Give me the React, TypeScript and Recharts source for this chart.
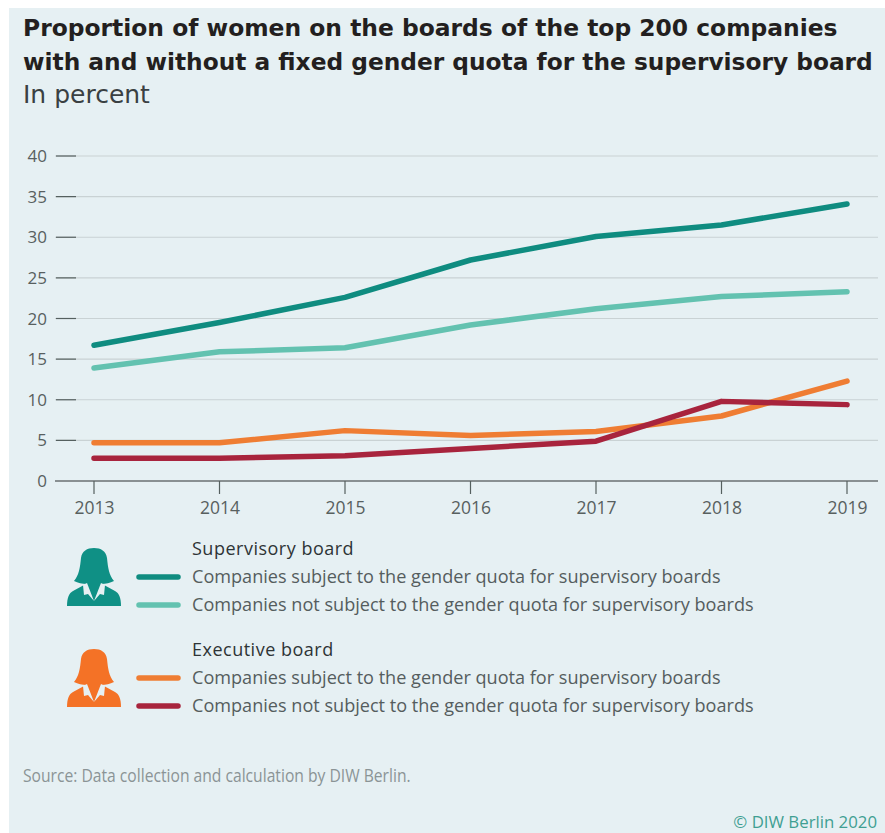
import { CartesianGrid, Line, LineChart, XAxis, YAxis } from "recharts";

const years = ["2013", "2014", "2015", "2016", "2017", "2018", "2019"];
const supervisoryQuota = [16.7, 19.5, 22.6, 27.2, 30.1, 31.5, 34.1];
const supervisoryNoQuota = [13.9, 15.9, 16.4, 19.2, 21.2, 22.7, 23.3];
const executiveQuota = [4.7, 4.7, 6.2, 5.6, 6.1, 8.0, 12.3];
const executiveNoQuota = [2.8, 2.8, 3.1, 4.0, 4.9, 9.8, 9.4];
const yTicks = [0, 5, 10, 15, 20, 25, 30, 35, 40];

const quotaLabel = "Companies subject to the gender quota for supervisory boards";
const noQuotaLabel = "Companies not subject to the gender quota for supervisory boards";

const TEAL = "#0f8c80";
const MINT = "#63c2b0";
const ORANGE = "#ef7d33";
const RED = "#a8243d";
const PANEL = "#e6f0f3";
const SANS = "'Open Sans', sans-serif";

const data = years.map((year, i) => ({
  year,
  supervisoryQuota: supervisoryQuota[i],
  supervisoryNoQuota: supervisoryNoQuota[i],
  executiveQuota: executiveQuota[i],
  executiveNoQuota: executiveNoQuota[i],
}));

const series = [
  { key: "supervisoryQuota", color: TEAL },
  { key: "supervisoryNoQuota", color: MINT },
  { key: "executiveQuota", color: ORANGE },
  { key: "executiveNoQuota", color: RED },
];

function YTick({ y, payload }: any) {
  return (
    <g>
      {payload.value > 0 && (
        <line x1={56} x2={76} y1={y} y2={y} stroke="#55605f" strokeWidth={1.2} />
      )}
      <text x={47} y={y + 6} textAnchor="end" fontFamily={SANS} fontSize={17} fill="#58605f">
        {payload.value}
      </text>
    </g>
  );
}

function XTick({ x, y, payload }: any) {
  return (
    <text x={x + 0.5} y={y + 18} textAnchor="middle" fontFamily={SANS} fontSize={17.5} fill="#58605f">
      {payload.value}
    </text>
  );
}

function WomanIcon({ x, y, color }: { x: number; y: number; color: string }) {
  return (
    <g transform={`translate(${x} ${y})`}>
      {/* shoulders */}
      <path
        d="M0 58 C0 50 2 45 6 43 L17 37 L37 37 L48 43 C52 45 54 50 54 58 Z"
        fill={color}
      />
      {/* head and hair */}
      <path
        d="M27 0 C20 0 15 3 14 10 C13 20 12 27 7 33 C11 35 15 36 20 36 L20 41 L34 41 L34 36 C39 36 43 35 47 33 C42 27 41 20 40 10 C39 3 34 0 27 0 Z"
        fill={color}
      />
      {/* lapels */}
      <path d="M16 37 L20 35 L27 53 L21 46 L17 47 Z" fill={PANEL} />
      <path d="M38 37 L34 35 L27 53 L33 46 L37 47 Z" fill={PANEL} />
    </g>
  );
}

function LegendGroup({
  y,
  title,
  first,
  second,
  icon,
}: {
  y: number;
  title: string;
  first: string;
  second: string;
  icon: string;
}) {
  const rows = [
    { color: first, label: quotaLabel, dy: 28 },
    { color: second, label: noQuotaLabel, dy: 56 },
  ];
  return (
    <g>
      <WomanIcon x={67} y={y} color={icon} />
      <text x={192} y={y + 7} fontFamily={SANS} fontSize={18} letterSpacing={0.5} fill="#2e3436">
        {title}
      </text>
      {rows.map((row) => (
        <g key={row.dy}>
          <line
            x1={139}
            x2={178}
            y1={y + row.dy + 1}
            y2={y + row.dy + 1}
            stroke={row.color}
            strokeWidth={5.5}
            strokeLinecap="round"
          />
          <text x={192} y={y + row.dy + 7} fontFamily={SANS} fontSize={18.1} fill="#555d5e">
            {row.label}
          </text>
        </g>
      ))}
    </g>
  );
}

export default function App() {
  return (
    <div style={{ position: "absolute", left: 0, top: 0, width: 885, height: 833, background: "#fff", overflow: "hidden" }}>
      <div style={{ position: "absolute", left: 9, top: 8, width: 876, height: 825, background: PANEL }} />
      <svg width={885} height={833} style={{ position: "absolute", left: 0, top: 0 }}>
        <text x={23} y={36} fontFamily="'DejaVu Sans', sans-serif" fontWeight={700} fontSize={23.4} fill="#231f20">
          Proportion of women on the boards of the top 200 companies
        </text>
        <text x={23} y={70} fontFamily="'DejaVu Sans', sans-serif" fontWeight={700} fontSize={23.3} fill="#231f20">
          with and without a fixed gender quota for the supervisory board
        </text>
        <text x={23} y={103} fontFamily="'DejaVu Sans', sans-serif" fontSize={25} fill="#3a4042">
          In percent
        </text>
        <LegendGroup y={548} title="Supervisory board" first={TEAL} second={MINT} icon="#0f9085" />
        <LegendGroup y={649} title="Executive board" first={ORANGE} second={RED} icon="#f47226" />
        {/* narrow source line: Open Sans squeezed horizontally */}
        <text
          transform="translate(23 782) scale(0.87 1)"
          fontFamily={SANS}
          fontSize={18}
          fill="#8b9496"
        >
          Source: Data collection and calculation by DIW Berlin.
        </text>
        <text x={877} y={828} textAnchor="end" fontFamily={SANS} fontSize={16.8} fill="#3f9f92">
          © DIW Berlin 2020
        </text>
      </svg>
      <div style={{ position: "absolute", left: 0, top: 0 }}>
        <LineChart
          width={885}
          height={833}
          data={data}
          margin={{ top: 156, right: 7, bottom: 312, left: 0 }}
        >
          <CartesianGrid vertical={false} stroke="#c9d2d4" strokeWidth={1.2} />
          <XAxis
            dataKey="year"
            padding={{ left: 39, right: 31 }}
            axisLine={{ stroke: "#3a4042", strokeWidth: 1.2 }}
            tickLine={{ stroke: "#55605f", strokeWidth: 1.2 }}
            tickSize={13}
            interval={0}
            height={40}
            tick={<XTick />}
          />
          <YAxis
            width={55}
            domain={[0, 40]}
            ticks={yTicks}
            axisLine={false}
            tickLine={false}
            interval={0}
            tick={<YTick />}
          />
          {series.map((s) => (
            <Line
              key={s.key}
              dataKey={s.key}
              type="linear"
              stroke={s.color}
              strokeWidth={5.5}
              strokeLinecap="round"
              strokeLinejoin="round"
              dot={false}
              isAnimationActive={false}
            />
          ))}
        </LineChart>
      </div>
    </div>
  );
}
